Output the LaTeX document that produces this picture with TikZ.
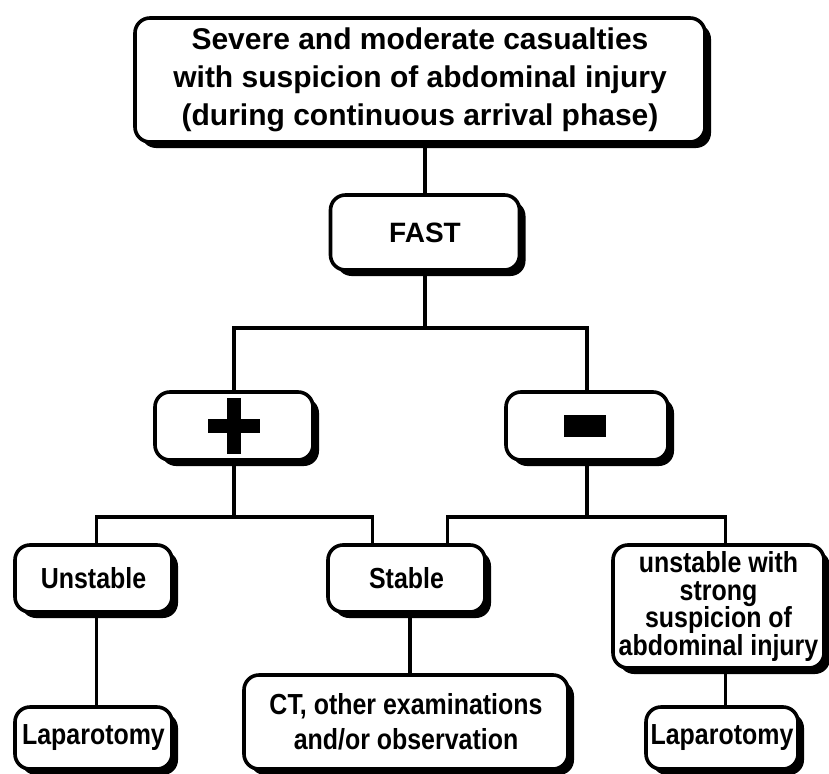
\documentclass[tikz,border=0pt]{standalone}
\usepackage{fontspec}
\setmainfont{Liberation Sans}
\newfontfamily\narrowsans[FakeStretch=0.86]{Liberation Sans}
\usetikzlibrary{shadows}
\begin{document}
\begin{tikzpicture}[x=1pt,y=-1pt,
  box/.style={draw=black, fill=white, line width=3.6pt, rounded corners=15pt,
    inner sep=0pt, align=center, font=\bfseries,
    drop shadow={shadow xshift=6pt, shadow yshift=-6pt, opacity=1, fill=black}},
  lowtext/.style={font=\narrowsans\fontsize{29}{27.5}\selectfont\bfseries},
  conn/.style={line width=3.6pt}]
\useasboundingbox (0,0) rectangle (829,773);
\fill[white] (0,0) rectangle (829,773);

\node[box, minimum width=570pt, minimum height=124pt,
  font=\fontsize{30}{38}\selectfont\bfseries] (top) at (420,80)
  {Severe and moderate casualties\\with suspicion of abdominal injury\\(during continuous arrival phase)};
\node[box, minimum width=189pt, minimum height=75pt,
  font=\fontsize{28}{32}\selectfont\bfseries] (fast) at (425,232.5) {FAST};
\node[box, minimum width=158pt, minimum height=68pt] (plus) at (234,426) {};
\node[box, minimum width=162pt, minimum height=68pt] (minus) at (587,426) {};
\node[box, lowtext, minimum width=157pt, minimum height=67pt] (unstable) at (93.5,578.5) {Unstable};
\node[box, lowtext, minimum width=157pt, minimum height=67pt] (stable) at (406.5,578.5) {Stable};
\node[box, lowtext, minimum width=211pt, minimum height=123pt] (uwith) at (718.5,606.5)
  {unstable with\\strong\\suspicion of\\abdominal injury};
\node[box, lowtext, minimum width=157pt, minimum height=62pt] (lap1) at (93.5,738) {Laparotomy};
\node[box, lowtext, minimum width=324pt, minimum height=94pt] (ct) at (406,722)
  {CT, other examinations\\[8pt]and/or observation};
\node[box, lowtext, minimum width=152pt, minimum height=62pt] (lap2) at (722,738) {Laparotomy};

% plus and minus signs
\fill ([xshift=-26pt,yshift=7pt]plus.center) rectangle ([xshift=26pt,yshift=-7pt]plus.center);
\fill ([xshift=-7pt,yshift=28pt]plus.center) rectangle ([xshift=7pt,yshift=-28pt]plus.center);
\fill ([xshift=-23pt,yshift=11pt]minus.center) rectangle ([xshift=19pt,yshift=-11pt]minus.center);

% junction coordinates
\coordinate (j0) at (425,328);
\coordinate (j1) at (234,517);
\coordinate (j2) at (587,517);

\draw[conn] (top.south -| fast) -- (fast.north);
\draw[conn] (fast.south) -- (j0);
\draw[conn] (plus.north) |- (j0) -| (minus.north);
\draw[conn] (plus.south) -- (j1);
\draw[conn] ([xshift=3pt]unstable.north) |- (j1) -| ([xshift=-34pt]stable.north);
\draw[conn] (minus.south) -- (j2);
\draw[conn] ([xshift=41pt]stable.north) |- (j2) -| ([xshift=7pt]uwith.north);
\draw[conn] ([xshift=3pt]unstable.south) -- ([xshift=3pt]lap1.north);
\draw[conn] ([xshift=3.5pt]stable.south) -- ([xshift=3.5pt]stable.south |- ct.north);
\draw[conn] ([xshift=7pt]uwith.south) -- ([xshift=7pt]uwith.south |- lap2.north);
\end{tikzpicture}
\end{document}
